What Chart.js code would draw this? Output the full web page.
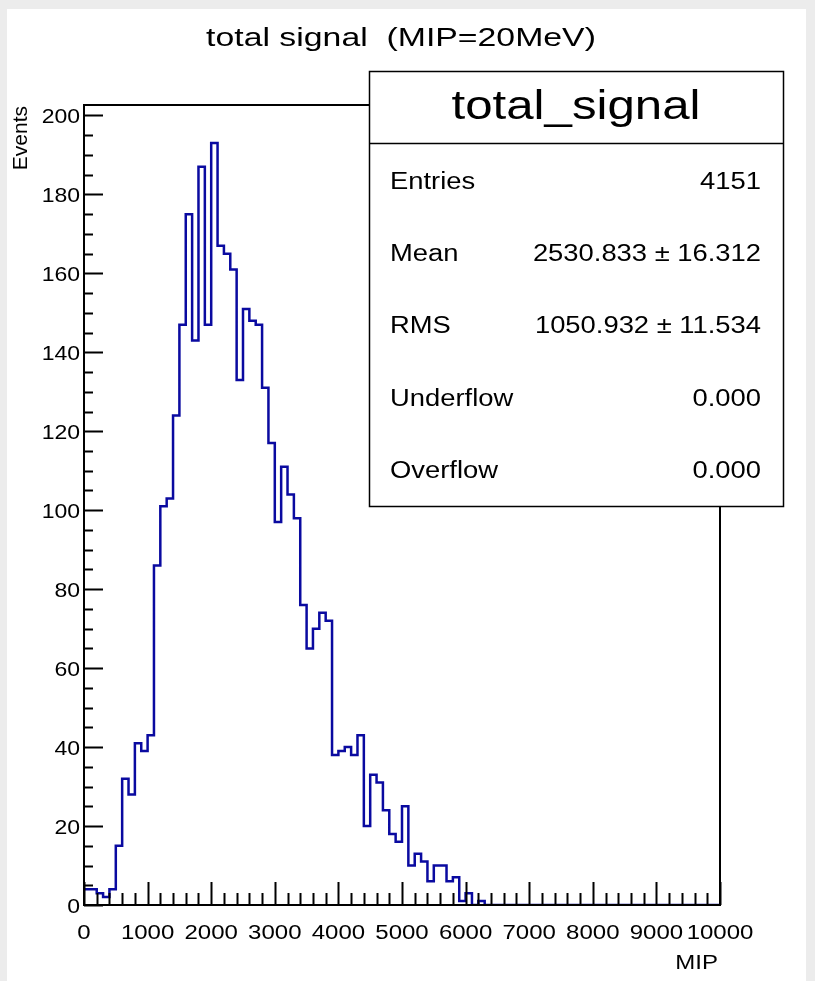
<!DOCTYPE html>
<html lang="en">
<head>
<meta charset="UTF-8">
<title>total signal</title>
<script src="https://cdn.jsdelivr.net/npm/chart.js@4.4.0/dist/chart.umd.min.js"></script>
<style>
    html, body {
        margin: 0;
        padding: 0;
        background: #ececec;
    }
    .pad {
        position: absolute;
        left: 7px;
        top: 9px;
        width: 799px;
        height: 972px;
        background: #fff;
    }
    canvas {
        position: absolute;
        left: 0;
        top: 0;
    }
</style>
</head>
<body>
<div class="pad"></div>
<canvas id="myChart" width="815" height="981"></canvas>
<script>
    // histogram: 100 bins of 100 MIP between 0 and 10000
    var xMin = 0
    var xMax = 10000
    var binWidth = 100
    var counts = [
        4, 4, 3, 2, 4, 15, 32, 28, 41, 39,
        43, 86, 101, 103, 124, 147, 175, 143, 187, 147,
        193, 167, 165, 161, 133, 151, 148, 147, 131, 117,
        97, 111, 104, 98, 76, 65, 70, 74, 72, 38,
        39, 40, 38, 43, 20, 33, 31, 24, 18, 16,
        25, 10, 13, 11, 6, 10, 10, 6, 7, 1,
        3, 0, 1, 0, 0, 0, 0, 0, 0, 0,
        0, 0, 0, 0, 0, 0, 0, 0, 0, 0,
        0, 0, 0, 0, 0, 0, 0, 0, 0, 0,
        0, 0, 0, 0, 0, 0, 0, 0, 0, 0
    ]
    var yMax = 202.65
    var xTickStep = 1000, xMinorStep = 200
    var yTickStep = 20, yMinorStep = 5

    var histTitle = 'total signal  (MIP=20MeV)'
    var xTitle = 'MIP'
    var yTitle = 'Events'
    var statsName = 'total_signal'
    var statLabels = ['Entries', 'Mean', 'RMS', 'Underflow', 'Overflow']
    var statValues = ['4151', '2530.833 \u00b1 16.312', '1050.932 \u00b1 11.534', '0.000', '0.000']

    // step points at the low edge of each bin, closed at xMax
    var points = counts.map(function (c, i) { return { x: xMin + i * binWidth, y: c } })
    points.push({ x: xMax, y: counts[counts.length - 1] })

    var FONT = '"Liberation Sans", Arial, Helvetica, sans-serif'

    // ROOT text comes out wider than normal, so squeeze it through a scale
    function stretchText(ctx, text, x, y, align, sx, size) {
        ctx.save()
        ctx.translate(x, y)
        ctx.scale(sx, 1)
        ctx.font = size + 'px ' + FONT
        ctx.textAlign = align
        ctx.textBaseline = 'alphabetic'
        ctx.fillText(text, 0, 0)
        ctx.restore()
    }

    var rootStyle = {
        id: 'rootStyle',
        afterDraw: function (chart) {
            var ctx = chart.ctx
            var a = chart.chartArea
            var xs = chart.scales.x
            var ys = chart.scales.y
            ctx.save()
            ctx.strokeStyle = '#000'
            ctx.fillStyle = '#000'
            ctx.lineWidth = 2

            // frame
            ctx.strokeRect(a.left, a.top, a.right - a.left, a.bottom - a.top)

            // x ticks, pointing into the pad
            ctx.beginPath()
            for (var v = xMin; v <= xMax; v += xMinorStep) {
                var px = Math.round(xs.getPixelForValue(v)) + 0.5
                var len = (v % xTickStep === 0) ? 23 : 12
                ctx.moveTo(px, a.bottom)
                ctx.lineTo(px, a.bottom - len)
            }
            // y ticks
            for (var w = 0; w <= yMax; w += yMinorStep) {
                var py = Math.round(ys.getPixelForValue(w)) + 0.5
                var len2 = (w % yTickStep === 0) ? 19 : 9
                ctx.moveTo(a.left, py)
                ctx.lineTo(a.left + len2, py)
            }
            ctx.stroke()

            // tick labels from the library scales
            xs.ticks.forEach(function (t) {
                stretchText(ctx, String(t.value), xs.getPixelForValue(t.value), 939, 'center', 1.2, 20)
            })
            ys.ticks.forEach(function (t) {
                stretchText(ctx, String(t.value), 80, ys.getPixelForValue(t.value) + 8, 'right', 1.15, 20)
            })

            // axis titles
            stretchText(ctx, xTitle, 718, 969, 'right', 1.2, 20)
            ctx.save()
            ctx.translate(27, a.top + 1)
            ctx.rotate(-Math.PI / 2)
            stretchText(ctx, yTitle, 0, 0, 'right', 1.05, 20)
            ctx.restore()

            // histogram title
            stretchText(ctx, histTitle, 401, 46, 'center', 1.3, 26)

            // stats box
            var bx = 369, by = 71, bw = 414, bh = 435
            ctx.fillStyle = '#fff'
            ctx.fillRect(bx, by, bw, bh)
            ctx.lineWidth = 1.5
            ctx.strokeRect(bx + 0.5, by + 0.5, bw, bh)
            ctx.beginPath()
            ctx.moveTo(bx, 143.5)
            ctx.lineTo(bx + bw, 143.5)
            ctx.stroke()
            ctx.fillStyle = '#000'
            stretchText(ctx, statsName, bx + bw / 2, 119, 'center', 1.2, 41)
            var rowY = [189, 261, 333, 406, 478]
            for (var i = 0; i < statLabels.length; i++) {
                stretchText(ctx, statLabels[i], 390, rowY[i], 'left', 1.19, 23)
                stretchText(ctx, statValues[i], 761, rowY[i], 'right', 1.19, 23)
            }
            ctx.restore()
        }
    }

    var ctx = document.getElementById('myChart').getContext('2d')
    var myChart = new Chart(ctx, {
        type: 'line',
        data: {
            datasets: [{
                label: statsName,
                data: points,
                stepped: 'before',
                borderColor: '#0a0aa0',
                borderWidth: 2.5,
                pointRadius: 0,
                fill: false
            }]
        },
        options: {
            responsive: false,
            animation: false,
            events: [],
            layout: {
                padding: { left: 0, right: 95, top: 105, bottom: 0 }
            },
            plugins: {
                legend: { display: false },
                title: { display: false },
                tooltip: { enabled: false }
            },
            scales: {
                x: {
                    type: 'linear',
                    min: xMin,
                    max: xMax,
                    ticks: { display: false, stepSize: xTickStep, includeBounds: false },
                    grid: { display: false },
                    border: { display: false },
                    afterFit: function (scale) { scale.height = 76 }
                },
                y: {
                    type: 'linear',
                    min: 0,
                    max: yMax,
                    ticks: { display: false, stepSize: yTickStep, includeBounds: false },
                    grid: { display: false },
                    border: { display: false },
                    afterFit: function (scale) { scale.width = 84 }
                }
            }
        },
        plugins: [rootStyle]
    });
</script>
</body>
</html>
